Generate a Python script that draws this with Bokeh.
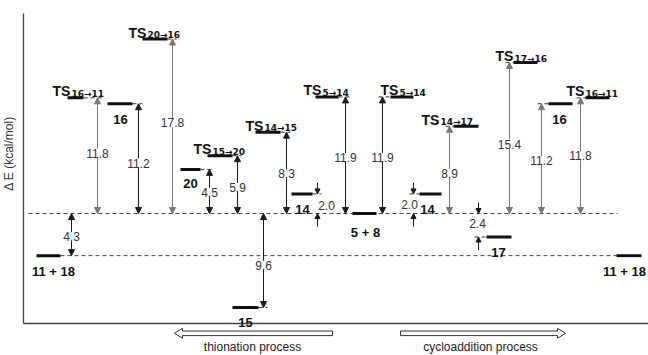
import numpy as np
from bokeh.plotting import figure
from bokeh.models import Range1d, ColumnDataSource, Arrow, NormalHead, LabelSet
from bokeh.core.properties import value
from bokeh.embed import file_html
from bokeh.resources import INLINE

# ---------------- data ----------------
level_labels = ["11 + 18", "TS", "16", "TS", "20", "TS", "15", "TS", "14", "TS",
                "5 + 8", "TS", "14", "TS", "17", "TS", "16", "TS", "11 + 18"]
level_subscripts = ["", "16\u219211", "", "20\u219216", "", "15\u219220", "", "14\u219215", "", "5\u219214",
                    "", "5\u219214", "", "14\u219217", "", "17\u219216", "", "16\u219211", ""]
level_energy = [-4.3, 11.8, 11.2, 17.8, 4.5, 5.9, -9.6, 8.3, 2.0, 11.9,
                0.0, 11.9, 2.0, 8.9, -2.4, 15.4, 11.2, 11.8, -4.3]
ref_index = 10          # "5 + 8" is the energy reference
axis_label = "\u0394 E (kcal/mol)"
process_labels = ["thionation process", "cycloaddition process"]

# ---------------- layout (pixels of the 648x355 canvas) ----------------
K = 9.8      # px per kcal/mol
Y0 = 213.0   # pixel row of the reference level
def ey(py):
    return (Y0 - py) / K

bar_x0 = [36, 67, 107, 142, 180, 207, 232, 255, 291, 315, 352, 390, 419, 453, 486, 513, 548, 585, 616]
bar_x1 = [60, 83, 132, 167, 200, 232, 258, 280, 312, 338, 376, 413, 441, 478, 511, 537, 572, 609, 641]
name_cx = [53, None, 120, None, 190, None, 245, None, 302, None, 365, None, 427, None, 498, None, 559, None, 624]
name_drop = [16, 0, 16, 0, 14, 0, 15, 0, 16, 0, 19, 0, 15.5, 0, 15, 0, 16, 0, 16]
ts_x = [None, 52, None, 128, None, 193, None, 245, None, 303, None, 380, None, 421, None, 495, None, 566, None]

arrow_targets = [0, 1, 2, 3, 4, 5, 6, 7, 9, 11, 13, 15, 16, 17]
arrow_x = [71, 97, 138, 172, 209, 237, 263, 286, 345, 382, 449, 509, 541, 580]
arrow_gray = [False, True, False, True, False, False, False, False, False, False, True, True, True, True]
label_frac = [0.55, 0.52, 0.46, 0.52, 0.48, 0.45, 0.55, 0.49, 0.48, 0.48, 0.46, 0.46, 0.48, 0.5]

small_targets = [8, 12, 14]
small_x = [317, 413, 478]

p = figure(width=648, height=355, x_range=Range1d(0, 648), y_range=Range1d(ey(355), ey(0)),
           x_axis_type=None, y_axis_type=None, toolbar_location=None, output_backend="svg",
           min_border=0, outline_line_color=None)
p.background_fill_color = "white"
p.border_fill_color = "white"

FONT = value("Liberation Sans")
SUBFONT = value("DejaVu Sans")
E_ref = level_energy[ref_index]

# spines
p.segment(x0=[23, 23], y0=[ey(13), ey(323)], x1=[23, 648], y1=[ey(323), ey(323)],
          line_color="#444", line_width=1.3)

# long dashed reference lines
p.segment(x0=[28, bar_x1[0]], y0=[E_ref, level_energy[0]], x1=[617, bar_x0[-1]],
          y1=[E_ref, level_energy[-1]], line_color="#444", line_width=1, line_dash="4 3")

# dashed extensions from each bar toward its arrow
dx0, dx1, dy = [], [], []
for i, ax in list(zip(arrow_targets, arrow_x))[1:] + list(zip(small_targets, small_x)):
    if ax > bar_x1[i]:
        dx0.append(bar_x1[i]); dx1.append(ax + 4)
    else:
        dx0.append(ax - 4); dx1.append(bar_x0[i])
    dy.append(level_energy[i])
p.segment(x0=dx0, y0=dy, x1=dx1, y1=dy, line_color="#333", line_width=1, line_dash="4 3")

# level bars
p.segment(x0=bar_x0, y0=level_energy, x1=bar_x1, y1=level_energy,
          line_color="#111", line_width=3)

# gap arrows (double headed)
for gray in (True, False):
    idx = [k for k in range(len(arrow_targets)) if arrow_gray[k] == gray]
    col = "#777" if gray else "#1a1a1a"
    src = ColumnDataSource(dict(x=[arrow_x[k] for k in idx],
                                y0=[E_ref] * len(idx),
                                y1=[level_energy[arrow_targets[k]] for k in idx]))
    p.add_layout(Arrow(start=NormalHead(size=6, fill_color=col, line_color=col),
                       end=NormalHead(size=6, fill_color=col, line_color=col),
                       x_start="x", y_start="y0", x_end="x", y_end="y1",
                       line_color=col, line_width=1, source=src))

# small outside arrows for the short gaps
sx, sy0, sy1 = [], [], []
for i, ax in zip(small_targets, small_x):
    e = level_energy[i]
    hi, lo = max(e, E_ref), min(e, E_ref)
    sx += [ax, ax]
    sy0 += [hi + 11 / K, lo - 13 / K]
    sy1 += [hi, lo]
p.add_layout(Arrow(end=NormalHead(size=5, fill_color="#1a1a1a", line_color="#1a1a1a"),
                   x_start="x", y_start="y0", x_end="x", y_end="y1",
                   line_color="#1a1a1a", line_width=1,
                   source=ColumnDataSource(dict(x=sx, y0=sy0, y1=sy1))))

# gap value labels
gl_x = list(arrow_x)
gl_y = [E_ref + label_frac[k] * (level_energy[t] - E_ref) for k, t in enumerate(arrow_targets)]
gl_t = ["%.1f" % abs(level_energy[t] - E_ref) for t in arrow_targets]
p.add_layout(LabelSet(x="x", y="y", text="t",
                      source=ColumnDataSource(dict(x=gl_x, y=gl_y, t=gl_t)),
                      text_align="center", text_baseline="middle", text_font=FONT,
                      text_font_size="12px", text_color="#333",
                      background_fill_color="white"))

# small gap labels
s_lx = [326, 409, 477]
s_ly = [ey(204.5), ey(203.5), ey(223)]
s_t = ["%.1f" % abs(level_energy[i] - E_ref) for i in small_targets]
p.text(x=s_lx, y=s_ly, text=s_t, text_align="center", text_baseline="middle",
       text_font=FONT, text_font_size="12px", text_color="#333")

# species names (bold, below bars)
nx, ny, nt = [], [], []
for i, lab in enumerate(level_labels):
    if name_cx[i] is not None:
        nx.append(name_cx[i]); ny.append(level_energy[i] - name_drop[i] / K); nt.append(lab)
p.text(x=nx, y=ny, text=nt, text_align="center", text_baseline="alphabetic",
       text_font=FONT, text_font_style="bold", text_font_size="13px", text_color="#111")

# transition state labels with subscripts
tx, ty, tt, ux, uy, ut = [], [], [], [], [], []
for i, lab in enumerate(level_labels):
    if ts_x[i] is not None:
        tx.append(ts_x[i]); ty.append(level_energy[i] + 6.5 / K); tt.append(lab)
        ux.append(ts_x[i] + 19); uy.append(level_energy[i] + 4.0 / K); ut.append(level_subscripts[i])
p.text(x=tx, y=ty, text=tt, text_align="left", text_baseline="alphabetic",
       text_font=FONT, text_font_style="bold", text_font_size="14px", text_color="#111")
p.text(x=ux, y=uy, text=ut, text_align="left", text_baseline="alphabetic",
       text_font=SUBFONT, text_font_style="bold", text_font_size="9px", text_color="#111")

# y axis title
p.text(x=[8], y=[ey(153)], text=[axis_label], angle=np.pi / 2, text_align="center",
       text_baseline="middle", text_font=FONT, text_font_size="12px", text_color="#333")

# hollow process arrows
def block_arrow(tip, base, tail, yc):
    hs, hh = 2.3, 5.0
    xs = [tip, base, base, tail, tail, base, base]
    ys = [yc, yc - hh, yc - hs, yc - hs, yc + hs, yc + hs, yc + hh]
    return xs, [ey(v) for v in ys]
a1 = block_arrow(174, 182, 332, 332.8)
a2 = block_arrow(565, 557, 400, 332.8)
p.patches(xs=[a1[0], a2[0]], ys=[a1[1], a2[1]], fill_color="white",
          line_color="#333", line_width=1)
p.text(x=[252, 480], y=[ey(346.5), ey(346.5)], text=process_labels, text_align="center",
       text_baseline="alphabetic", text_font=FONT, text_font_size="12px", text_color="#222")

open("out.html", "w").write(file_html(p, INLINE))
